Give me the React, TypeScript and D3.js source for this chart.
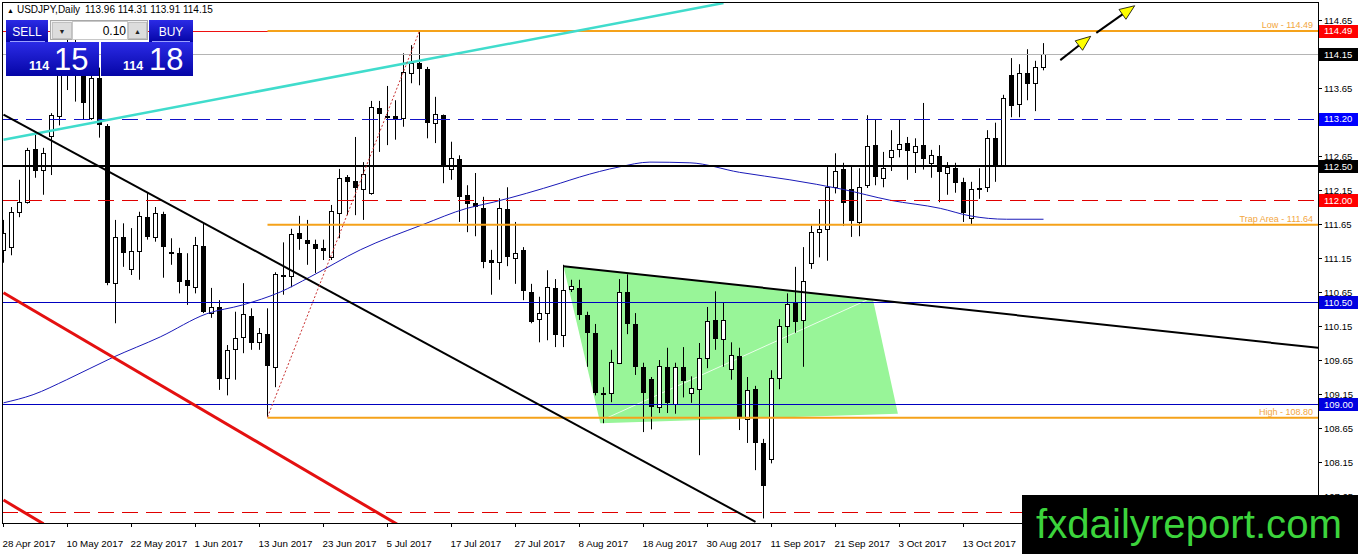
import React from 'react';
import * as d3 from 'd3';

// ---------- DATA ----------
// Daily USDJPY bars [open, high, low, close], bar 0 = 28 Apr 2017
const ohlc: [number, number, number, number][] = [
  [111.27, 111.71, 111.08, 111.52], [111.31, 111.90, 111.19, 111.83], [111.83, 112.30, 111.75, 111.97],
  [111.97, 112.77, 111.95, 112.74], [112.75, 112.96, 112.33, 112.43], [112.44, 112.77, 112.08, 112.69],
  [112.94, 113.28, 112.37, 113.25], [113.24, 114.14, 113.10, 113.98], [113.98, 114.37, 113.62, 114.22],
  [114.22, 114.36, 113.45, 113.86], [113.88, 114.05, 113.18, 113.43], [113.21, 113.95, 113.18, 113.80],
  [113.80, 113.95, 112.92, 113.10], [113.09, 113.12, 110.75, 110.78], [110.78, 111.71, 110.19, 111.46],
  [111.46, 111.66, 111.02, 111.22], [110.99, 111.59, 110.90, 111.25], [111.25, 111.83, 110.83, 111.77],
  [111.75, 112.11, 111.42, 111.46], [111.46, 111.90, 111.39, 111.81], [111.80, 111.83, 110.86, 111.31],
  [111.24, 111.44, 111.05, 111.21], [111.22, 111.30, 110.63, 110.79], [110.83, 111.22, 110.46, 110.74],
  [110.72, 111.46, 110.63, 111.34], [111.32, 111.66, 110.34, 110.36], [110.34, 110.71, 110.27, 110.43],
  [110.43, 110.53, 109.21, 109.37], [109.38, 109.87, 109.13, 109.80], [109.81, 110.36, 109.36, 109.97],
  [109.99, 110.78, 109.75, 110.33], [110.30, 110.41, 109.80, 109.90], [109.91, 110.12, 109.80, 110.05],
  [110.03, 110.41, 108.81, 109.56], [109.55, 110.94, 109.25, 110.91], [110.90, 111.38, 110.61, 110.87],
  [110.88, 111.58, 110.72, 111.50], [111.52, 111.77, 111.27, 111.43], [111.41, 111.71, 111.05, 111.36],
  [111.36, 111.42, 110.93, 111.28], [111.30, 111.42, 111.12, 111.25], [111.16, 111.93, 111.12, 111.84],
  [111.81, 112.46, 111.44, 112.33], [112.34, 112.37, 111.78, 112.27], [112.28, 112.93, 111.78, 112.18],
  [112.16, 112.56, 111.71, 112.38], [112.11, 113.46, 112.08, 113.37], [113.36, 113.46, 112.71, 113.27],
  [113.22, 113.68, 112.81, 113.24], [113.24, 113.47, 112.89, 113.19], [113.21, 114.16, 113.08, 113.89],
  [113.87, 114.28, 113.72, 114.02], [114.02, 114.49, 113.69, 113.93], [113.93, 113.96, 112.91, 113.13],
  [113.13, 113.52, 112.84, 113.27], [113.25, 113.26, 112.25, 112.52], [112.46, 112.86, 112.30, 112.62],
  [112.60, 112.66, 111.68, 112.05], [112.08, 112.22, 111.53, 111.94], [111.96, 112.40, 111.47, 111.90],
  [111.88, 112.05, 111.00, 111.09], [111.12, 111.27, 110.61, 111.08], [111.09, 112.03, 110.83, 111.88],
  [111.87, 112.19, 111.03, 111.16], [111.15, 111.68, 110.77, 111.22], [111.27, 111.31, 110.53, 110.66],
  [110.65, 110.77, 110.19, 110.21], [110.25, 110.58, 109.91, 110.34], [110.34, 110.97, 109.94, 110.72],
  [110.71, 110.84, 109.84, 110.02], [110.02, 111.05, 109.84, 110.68], [110.69, 110.83, 110.65, 110.74],
  [110.71, 110.83, 110.24, 110.31], [110.31, 110.36, 109.55, 110.05], [110.05, 110.18, 109.13, 109.16],
  [109.16, 109.25, 108.72, 109.17], [109.16, 109.80, 109.03, 109.62], [109.61, 110.84, 109.59, 110.65],
  [110.65, 110.91, 110.03, 110.18], [110.18, 110.34, 109.43, 109.55], [109.55, 109.61, 108.59, 109.16],
  [109.37, 109.40, 108.63, 108.96], [108.96, 109.65, 108.87, 109.56], [109.55, 109.83, 108.87, 109.02],
  [109.00, 109.61, 108.86, 109.55], [109.55, 109.84, 109.10, 109.34], [109.16, 109.41, 109.02, 109.24],
  [109.22, 109.90, 108.25, 109.68], [109.68, 110.43, 109.53, 110.22], [110.24, 110.66, 109.80, 109.96],
  [109.96, 110.49, 109.55, 110.24], [109.52, 109.91, 109.36, 109.72], [109.71, 109.83, 108.62, 108.80],
  [108.78, 109.40, 108.43, 109.21], [109.22, 109.27, 108.03, 108.43], [108.43, 108.49, 107.32, 107.79],
  [108.19, 109.50, 108.13, 109.38], [109.38, 110.25, 109.22, 110.15], [110.15, 110.63, 109.90, 110.47],
  [110.49, 111.02, 110.05, 110.21], [110.24, 111.31, 109.55, 110.81], [111.08, 111.63, 110.99, 111.53],
  [111.53, 111.87, 111.16, 111.58], [111.58, 112.49, 111.11, 112.19], [112.19, 112.69, 112.10, 112.43],
  [112.46, 112.55, 111.62, 111.96], [112.16, 112.49, 111.46, 111.69], [111.68, 112.47, 111.47, 112.19],
  [112.22, 113.25, 112.18, 112.80], [112.81, 113.19, 112.22, 112.34], [112.33, 112.71, 112.19, 112.47],
  [112.63, 113.03, 112.43, 112.74], [112.75, 113.18, 112.63, 112.83], [112.84, 112.93, 112.30, 112.72],
  [112.71, 112.91, 112.40, 112.80], [112.81, 113.43, 112.45, 112.61], [112.55, 112.74, 112.33, 112.66],
  [112.65, 112.81, 111.97, 112.41], [112.40, 112.56, 112.08, 112.49], [112.47, 112.55, 112.11, 112.25],
  [112.27, 112.33, 111.68, 111.81], [111.74, 112.27, 111.64, 112.16], [112.16, 112.47, 112.02, 112.18],
  [112.19, 113.03, 112.12, 112.91], [112.91, 113.14, 112.27, 112.50], [112.52, 113.55, 112.50, 113.50],
  [113.84, 114.09, 113.22, 113.38], [113.41, 114.00, 113.22, 113.87], [113.87, 114.22, 113.47, 113.71],
  [113.72, 114.05, 113.31, 113.96], [113.96, 114.31, 113.91, 114.15],
];

const dateLabels: [number, string][] = [
  [0, '28 Apr 2017'], [8, '10 May 2017'], [16, '22 May 2017'], [24, '1 Jun 2017'],
  [32, '13 Jun 2017'], [40, '23 Jun 2017'], [48, '5 Jul 2017'], [56, '17 Jul 2017'],
  [64, '27 Jul 2017'], [72, '8 Aug 2017'], [80, '18 Aug 2017'], [88, '30 Aug 2017'],
  [96, '11 Sep 2017'], [104, '21 Sep 2017'], [112, '3 Oct 2017'], [120, '13 Oct 2017'],
];

const priceTicks = [114.65, 114.15, 113.65, 113.15, 112.65, 112.15, 111.65, 111.15,
  110.65, 110.15, 109.65, 109.15, 108.65, 108.15, 107.65];

// moving average [bar, price]
const maPoints: [number, number][] = [
  [0, 109.02], [3.7, 109.14], [7.9, 109.36], [13.7, 109.69], [19.6, 109.99], [25.4, 110.33],
  [29.9, 110.46], [34.6, 110.65], [38.3, 110.87], [44.6, 111.27], [52.4, 111.64], [57.9, 111.88],
  [61.2, 111.97], [69.6, 112.25], [72, 112.34], [77, 112.49], [80.8, 112.56], [85.8, 112.55],
  [92, 112.41], [98.3, 112.30], [104.9, 112.16], [110.8, 112.00], [117.1, 111.88],
  [120.8, 111.77], [125.4, 111.72], [130, 111.72],
];

// horizontal levels
const hLines: { p: number; color: string; w: number; dash?: string }[] = [
  { p: 114.49, color: '#ee1010', w: 1 },
  { p: 114.15, color: '#b4b4b4', w: 1 },
  { p: 113.20, color: '#1212c8', w: 1, dash: '16,8' },
  { p: 112.50, color: '#000000', w: 2 },
  { p: 112.00, color: '#e00000', w: 1, dash: '16,8' },
  { p: 110.50, color: '#0000c0', w: 1 },
  { p: 109.00, color: '#0000c0', w: 1 },
  { p: 107.42, color: '#e00000', w: 1, dash: '16,8' },
];
const orangeLevels: { p: number; text: string }[] = [
  { p: 114.49, text: 'Low - 114.49' },
  { p: 111.64, text: 'Trap Area - 111.64' },
  { p: 108.80, text: 'High - 108.80' },
];
const orangeStart = 33;
const axisBoxes: { p: number; bg: string }[] = [
  { p: 114.49, bg: '#ff0000' }, { p: 114.15, bg: '#000000' }, { p: 113.20, bg: '#0000ff' },
  { p: 112.50, bg: '#000000' }, { p: 112.00, bg: '#ff0000' }, { p: 110.50, bg: '#0000e0' },
  { p: 109.00, bg: '#0000e0' },
];

// trend lines [bar, price] pairs
const cyanLine: [number, number][] = [[0, 112.89], [90, 114.90]];
const blackDown: [number, number][] = [[0, 113.26], [94, 107.27]];
const redA: [number, number][] = [[0, 110.64], [50, 107.18]];
const redB: [number, number][] = [[0, 107.59], [5, 107.24]];
const blackTop: [number, number][] = [[70, 111.03], [165, 109.82]];
const redDotted: [number, number][] = [[33, 108.81], [52, 114.49]];
const greenZone: [number, number][] = [[70, 111.03], [108.7, 110.53], [111.8, 108.86], [74.6, 108.72]];
const greenInner: [number, number][] = [[74.9, 108.77], [107.9, 110.53]];
const arrows: [number, number, number, number][] = [
  [132.1, 114.06, 135.9, 114.41],
  [136.6, 114.46, 141.4, 114.86],
];

export default function App() {
  const x = d3.scaleLinear().domain([0, 130]).range([3.5, 1043.5]);
  const y = d3.scaleLinear().domain([107.65, 114.65]).range([496, 20]);
  const L = 2, T = 2, R = 1318, B = 523;
  const font = "'Liberation Sans', Arial, sans-serif";
  const line2 = (pts: [number, number][]) =>
    d3.line<[number, number]>().x(d => x(d[0])).y(d => y(d[1]))(pts) || '';
  const maPath = d3.line<[number, number]>().x(d => x(d[0])).y(d => y(d[1])).curve(d3.curveMonotoneX)(maPoints) || '';
  const greenPath = line2(greenZone) + 'Z';

  const arrowEls = arrows.map(([i1, p1, i2, p2], k) => {
    const x1 = x(i1), y1 = y(p1), x2 = x(i2), y2 = y(p2);
    const dx = x2 - x1, dy = y2 - y1, len = Math.hypot(dx, dy);
    const ux = dx / len, uy = dy / len;
    const hl = 15, hw = 6;
    const bx = x2 - ux * hl, by = y2 - uy * hl;
    const pts = `${x2},${y2} ${bx - uy * hw},${by + ux * hw} ${bx + uy * hw},${by - ux * hw}`;
    return (
      <g key={k}>
        <line x1={x1} y1={y1} x2={bx} y2={by} stroke="#000" strokeWidth={2} />
        <polygon points={pts} fill="#ffff00" stroke="#000" strokeWidth={0.8} />
      </g>
    );
  });

  return (
    <svg width={1358} height={554} style={{ position: 'absolute', left: 0, top: 0, background: '#fff' }} fontFamily={font}>
      <defs>
        <clipPath id="plotclip"><rect x={L} y={T} width={R - L} height={B - T} /></clipPath>
        <linearGradient id="pblue" x1="0" y1="0" x2="0" y2="1">
          <stop offset="0" stopColor="#2b2be6" />
          <stop offset="1" stopColor="#0505a6" />
        </linearGradient>
      </defs>
      <rect width={1358} height={554} fill="#fff" />

      <g clipPath="url(#plotclip)">
        <path d={greenPath} fill="#98f598" />
        <path d={line2(greenInner)} stroke="#ffffff" strokeWidth={1} opacity={0.8} fill="none" />

        {ohlc.map(([o, h, l, c], i) => {
          const cx = x(i);
          const top = Math.round(y(Math.max(o, c)));
          const bot = Math.round(y(Math.min(o, c)));
          const up = c >= o;
          return (
            <g key={i}>
              <line x1={cx} x2={cx} y1={y(h)} y2={y(l)} stroke="#000" strokeWidth={1} />
              {up ? (
                <rect x={cx - 2} y={top + 0.5} width={4} height={Math.max(bot - top, 1)} fill="#fff" stroke="#000" strokeWidth={1} />
              ) : (
                <rect x={cx - 2.5} y={top} width={5} height={Math.max(bot - top, 1)} fill="#000" />
              )}
            </g>
          );
        })}

        <path d={maPath} fill="none" stroke="#1a1ab8" strokeWidth={1} />

        {hLines.map((h, k) => (
          <line key={k} x1={L} x2={R} y1={Math.round(y(h.p)) + (h.w === 1 ? 0.5 : 0)} y2={Math.round(y(h.p)) + (h.w === 1 ? 0.5 : 0)}
            stroke={h.color} strokeWidth={h.w} strokeDasharray={h.dash} />
        ))}
        {orangeLevels.map((o, k) => (
          <line key={k} x1={x(orangeStart)} x2={R} y1={y(o.p)} y2={y(o.p)} stroke="#f5a21a" strokeWidth={2} />
        ))}

        <path d={line2(cyanLine)} stroke="#40dccc" strokeWidth={2.5} fill="none" />
        <path d={line2(blackDown)} stroke="#000" strokeWidth={2} fill="none" />
        <path d={line2(redA)} stroke="#e41010" strokeWidth={3} fill="none" />
        <path d={line2(redB)} stroke="#e41010" strokeWidth={3} fill="none" />
        <path d={line2(blackTop)} stroke="#000" strokeWidth={2} fill="none" />
        <path d={line2(redDotted)} stroke="#c83030" strokeWidth={1} strokeDasharray="2,2" fill="none" />
        {arrowEls}

        {orangeLevels.map((o, k) => (
          <text key={k} x={1313} y={y(o.p) - 3} textAnchor="end" fontSize={9} fill="#f2a640">{o.text}</text>
        ))}
      </g>

      {/* frame */}
      <rect x={L + 0.5} y={T + 0.5} width={R - L} height={B - T} fill="none" stroke="#000" strokeWidth={1} />

      {/* right axis */}
      {priceTicks.map((p, k) => (
        <g key={k}>
          <line x1={R} x2={R + 4} y1={Math.round(y(p)) + 0.5} y2={Math.round(y(p)) + 0.5} stroke="#000" />
          <text x={1324} y={y(p) + 3.5} fontSize={9.5} fill="#000">{p.toFixed(2)}</text>
        </g>
      ))}
      {axisBoxes.map((b, k) => (
        <g key={k}>
          <rect x={1319} y={Math.round(y(b.p)) - 6} width={39} height={13} fill={b.bg} />
          <text x={1324} y={y(b.p) + 3.5} fontSize={9.5} fill="#fff">{b.p.toFixed(2)}</text>
        </g>
      ))}

      {/* bottom axis */}
      {dateLabels.map(([i, s], k) => (
        <g key={k}>
          <line x1={x(i)} x2={x(i)} y1={B} y2={B + 4} stroke="#000" />
          <text x={x(i) - 1} y={547} fontSize={9.8} fill="#000">{s}</text>
        </g>
      ))}

      {/* header */}
      <text x={7} y={13} fontSize={10} fill="#000">
        <tspan fontSize={7}>▲</tspan>
        <tspan dx={3}>USDJPY,Daily</tspan>
        <tspan dx={5}>113.96 114.31 113.91 114.15</tspan>
      </text>

      {/* trade panel */}
      <g>
        <rect x={6} y={20} width={42} height={22} fill="url(#pblue)" />
        <line x1={10} x2={45} y1={41.5} y2={41.5} stroke="#9aa0ff" strokeWidth={1} />
        <text x={27} y={36} textAnchor="middle" fontSize={12} fill="#fff">SELL</text>
        <rect x={50.5} y={20.5} width={97} height={19} fill="#f0f0f0" stroke="#a8a8a8" />
        <rect x={52.5} y={22.5} width={19} height={16} fill="#dcdcdc" stroke="#c0c0c0" />
        <text x={62} y={33.5} textAnchor="middle" fontSize={7} fill="#222">▼</text>
        <rect x={72.5} y={21.5} width={55} height={18} fill="#fff" stroke="#c8c8c8" />
        <text x={126} y={35} textAnchor="end" fontSize={12} fill="#000">0.10</text>
        <rect x={128.5} y={22.5} width={18} height={16} fill="#dcdcdc" stroke="#c0c0c0" />
        <text x={137.5} y={33.5} textAnchor="middle" fontSize={7} fill="#222">▲</text>
        <rect x={149} y={20} width={44} height={22} fill="url(#pblue)" />
        <line x1={152} x2={190} y1={41.5} y2={41.5} stroke="#9aa0ff" strokeWidth={1} />
        <text x={171} y={36} textAnchor="middle" fontSize={12} fill="#fff">BUY</text>
        <rect x={6} y={42} width={93} height={34} fill="url(#pblue)" />
        <rect x={101} y={42} width={92} height={34} fill="url(#pblue)" />
        <text x={29} y={70} fontSize={12.5} fontWeight="bold" fill="#fff">114</text>
        <text x={54} y={70} fontSize={31} fill="#fff">15</text>
        <text x={123} y={70} fontSize={12.5} fontWeight="bold" fill="#fff">114</text>
        <text x={149} y={70} fontSize={31} fill="#fff">18</text>
      </g>

      {/* watermark */}
      <rect x={1022} y={495} width={336} height={59} fill="#000" />
      <text x={1036} y={538} fontSize={40} fill="#3cd43c" textLength={306} lengthAdjust="spacingAndGlyphs"
        fontFamily="'Liberation Sans', Arial, sans-serif">fxdailyreport.com</text>
    </svg>
  );
}
